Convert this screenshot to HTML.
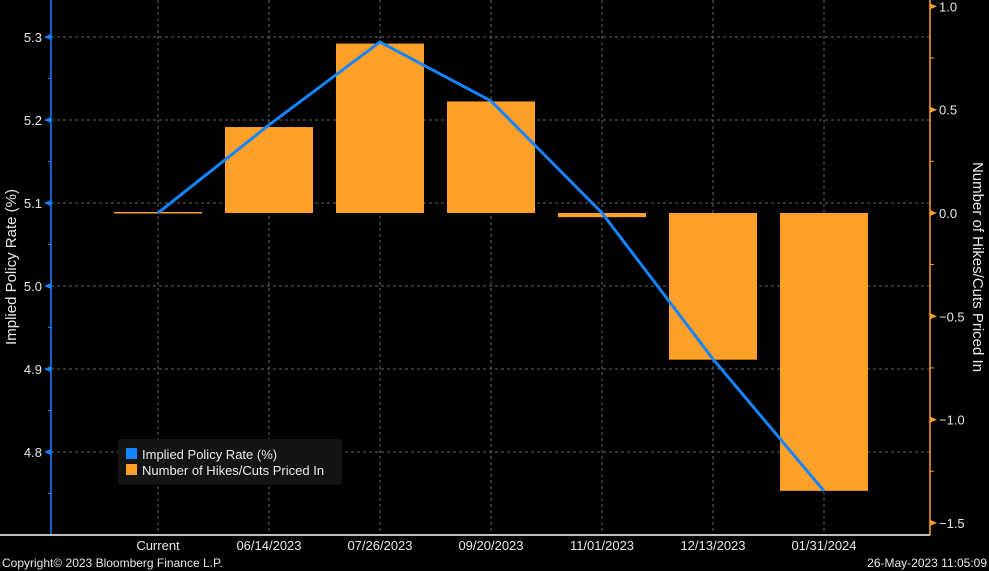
<!DOCTYPE html>
<html><head><meta charset="utf-8"><style>
html,body{margin:0;padding:0;background:#000;}
svg{display:block;font-family:"Liberation Sans","DejaVu Sans",sans-serif;}
</style></head><body>
<svg id="chart" width="989" height="571" viewBox="0 0 989 571">
<g id="grid"></g>
<g id="bars"></g>
<g id="line"></g>
<g id="axes"></g>
<g>
<rect x="118" y="439" width="224" height="46" rx="3" fill="#141414"/>
<rect x="126" y="448" width="11" height="11" fill="#1584ff"/>
<text x="142" y="459" fill="#e8e8e8" font-size="13">Implied Policy Rate (%)</text>
<rect x="126" y="464" width="11" height="11" fill="#ffa028"/>
<text x="142" y="475" fill="#e8e8e8" font-size="13">Number of Hikes/Cuts Priced In</text>
</g>
<text transform="translate(16,267) rotate(-90)" text-anchor="middle" fill="#e8e8e8" font-size="15">Implied Policy Rate (%)</text>
<text transform="translate(973,267) rotate(90)" text-anchor="middle" fill="#e8e8e8" font-size="15">Number of Hikes/Cuts Priced In</text>
<text x="2" y="567" fill="#e8e8e8" font-size="12">Copyright© 2023 Bloomberg Finance L.P.</text>
<text x="987" y="567" text-anchor="end" fill="#e8e8e8" font-size="12">26-May-2023 11:05:09</text>
</svg>
<script>
const categories=["Current","06/14/2023","07/26/2023","09/20/2023","11/01/2023","12/13/2023","01/31/2024"];
const rateValues=[5.088,5.194,5.294,5.223,5.088,4.912,4.753];
const hikeValues=[0,0.416,0.82,0.54,-0.02,-0.71,-1.345];
const leftTicks=[4.8,4.9,5.0,5.1,5.2,5.3];
const rightTicks=[-1.5,-1.0,-0.5,0.0,0.5,1.0];
const NS="http://www.w3.org/2000/svg";
const L=51,R=930,B=535;
const x=i=>158+i*111;
const yL=v=>37+(5.3-v)*830;
const yR=v=>213-v*206.6;
function mk(tag,attrs,parent){const e=document.createElementNS(NS,tag);for(const k in attrs)e.setAttribute(k,attrs[k]);parent.appendChild(e);return e;}
const grid=document.getElementById('grid'),bars=document.getElementById('bars'),line=document.getElementById('line'),axes=document.getElementById('axes');
leftTicks.forEach(t=>{const g=mk('line',{x1:L,x2:R,y1:yL(t),y2:yL(t),stroke:'#666','stroke-dasharray':'3,3'},grid);

});
categories.forEach((c,i)=>{const g=mk('line',{x1:x(i),x2:x(i),y1:0,y2:B,stroke:'#666','stroke-dasharray':'3,3'},grid);


const t=mk('text',{x:x(i),y:550,'text-anchor':'middle',fill:'#e8e8e8','font-size':'13'},axes);t.textContent=c;

});
hikeValues.forEach((v,i)=>{const y0=yR(0),y1=yR(v);let top=Math.min(y0,y1),h=Math.abs(y1-y0);if(h<1.5){h=1.5;top=v<0?y0:y0-1;}
const r=mk('rect',{x:x(i)-44,y:top,width:88,height:h,fill:'#ffa028'},bars);

});
const p=mk('polyline',{points:rateValues.map((v,i)=>x(i)+','+yL(v)).join(' '),fill:'none',stroke:'#1584ff','stroke-width':3},line);


const la=mk('line',{x1:L,x2:L,y1:0,y2:B,stroke:'#1584ff','stroke-width':1.5},axes);


const ra=mk('line',{x1:R,x2:R,y1:0,y2:B,stroke:'#ffa028','stroke-width':1.5},axes);


const xa=mk('line',{x1:0,x2:R,y1:B,y2:B,stroke:'#fff','stroke-width':1.5},axes);


leftTicks.forEach(t=>{const y=yL(t);mk('polygon',{points:`${L},${y-3} ${L},${y+3} ${L-7},${y}`,fill:'#1584ff'},axes);
mk('line',{x1:L-3,x2:L,y1:y+41.5,y2:y+41.5,stroke:'#1584ff'},axes);
const tx=mk('text',{x:L-9,y:y+5,'text-anchor':'end',fill:'#e8e8e8','font-size':'13'},axes);tx.textContent=t.toFixed(1);

});
rightTicks.forEach(t=>{const y=yR(t);mk('polygon',{points:`${R},${y-3} ${R},${y+3} ${R+7},${y}`,fill:'#ffa028'},axes);
mk('line',{x1:R,x2:R+4,y1:y+51.6,y2:y+51.6,stroke:'#ffa028'},axes);
const tx=mk('text',{x:R+9,y:y+5,fill:'#e8e8e8','font-size':'13'},axes);tx.textContent=(t<0?'−':'')+Math.abs(t).toFixed(1);

});
</script>
</body></html>
